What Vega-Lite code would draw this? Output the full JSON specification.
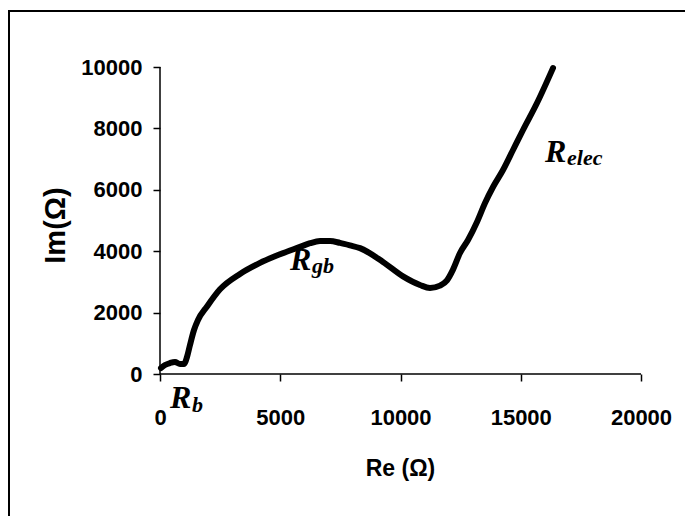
{
  "$schema": "https://vega.github.io/schema/vega-lite/v6.json",
  "width": 686,
  "height": 515,
  "autosize": {"type": "none"},
  "padding": {"left": 9, "top": 11, "right": 0, "bottom": 0},
  "background": "white",
  "config": {
    "view": {"stroke": "black", "strokeWidth": 2},
    "axis": {
      "grid": false,
      "domain": false,
      "ticks": true,
      "tickColor": "black",
      "tickWidth": 1.5,
      "tickSize": 7,
      "labelColor": "black",
      "labelFont": "Liberation Sans",
      "labelFontWeight": "bold",
      "labelFontSize": 22,
      "labelOverlap": false,
      "labelFlush": false,
      "titleColor": "black",
      "titleFont": "Liberation Sans",
      "titleFontWeight": "bold",
      "format": "d"
    }
  },
  "datasets": {
    "curve": [
      {"re": 42, "im": 195, "o": 1},
      {"re": 208, "im": 293, "o": 2},
      {"re": 416, "im": 358, "o": 3},
      {"re": 624, "im": 391, "o": 4},
      {"re": 832, "im": 326, "o": 5},
      {"re": 998, "im": 326, "o": 6},
      {"re": 1123, "im": 554, "o": 7},
      {"re": 1247, "im": 945, "o": 8},
      {"re": 1414, "im": 1433, "o": 9},
      {"re": 1580, "im": 1759, "o": 10},
      {"re": 1954, "im": 2200, "o": 11},
      {"re": 2495, "im": 2760, "o": 12},
      {"re": 3326, "im": 3260, "o": 13},
      {"re": 4158, "im": 3620, "o": 14},
      {"re": 4990, "im": 3900, "o": 15},
      {"re": 5821, "im": 4140, "o": 16},
      {"re": 6238, "im": 4260, "o": 17},
      {"re": 6653, "im": 4330, "o": 18},
      {"re": 7069, "im": 4330, "o": 19},
      {"re": 7484, "im": 4270, "o": 20},
      {"re": 7900, "im": 4190, "o": 21},
      {"re": 8316, "im": 4100, "o": 22},
      {"re": 9272, "im": 3650, "o": 23},
      {"re": 10104, "im": 3180, "o": 24},
      {"re": 10811, "im": 2900, "o": 25},
      {"re": 11227, "im": 2801, "o": 26},
      {"re": 11642, "im": 2880, "o": 27},
      {"re": 11933, "im": 3050, "o": 28},
      {"re": 12183, "im": 3400, "o": 29},
      {"re": 12474, "im": 3941, "o": 30},
      {"re": 12807, "im": 4364, "o": 31},
      {"re": 13181, "im": 4951, "o": 32},
      {"re": 13514, "im": 5569, "o": 33},
      {"re": 13847, "im": 6090, "o": 34},
      {"re": 14262, "im": 6644, "o": 35},
      {"re": 14678, "im": 7296, "o": 36},
      {"re": 15094, "im": 7947, "o": 37},
      {"re": 15676, "im": 8826, "o": 38},
      {"re": 16341, "im": 9966, "o": 39}
    ],
    "axislines": [
      {"re": 0, "im": 0, "re2": 0, "im2": 10000},
      {"re": 0, "im": 0, "re2": 20000, "im2": 0}
    ],
    "mains": [
      {"re": 416, "im": -1107, "t": "R"},
      {"re": 5405, "im": 3388, "t": "R"},
      {"re": 16008, "im": 6906, "t": "R"}
    ],
    "subs": [
      {"re": 1330, "im": -1238, "t": "b"},
      {"re": 6320, "im": 3290, "t": "gb"},
      {"re": 16923, "im": 6808, "t": "elec"}
    ]
  },
  "encoding": {
    "x": {
      "field": "re",
      "type": "quantitative",
      "scale": {"domain": [-6278.6, 22245.3], "nice": false, "zero": false},
      "axis": {
        "values": [0, 5000, 10000, 15000, 20000],
        "offset": -152,
        "labelPadding": 26,
        "title": "Re (Ω)",
        "titleFontSize": 23,
        "titleX": 391,
        "titleY": 94,
        "titleAlign": "center",
        "titleBaseline": "middle"
      }
    },
    "y": {
      "field": "im",
      "type": "quantitative",
      "scale": {"domain": [-4951.1, 11824.1], "nice": false, "zero": false},
      "axis": {
        "values": [0, 2000, 4000, 6000, 8000, 10000],
        "offset": -151,
        "labelPadding": 11,
        "title": "Im(Ω)",
        "titleFontSize": 29,
        "titleAngle": -90,
        "titleX": -105,
        "titleY": 214,
        "titleAlign": "center",
        "titleBaseline": "middle"
      }
    }
  },
  "layer": [
    {
      "data": {"name": "axislines"},
      "mark": {"type": "rule", "color": "black", "strokeWidth": 1.5},
      "encoding": {"x2": {"field": "re2"}, "y2": {"field": "im2"}}
    },
    {
      "data": {"name": "curve"},
      "mark": {"type": "line", "color": "black", "strokeWidth": 6, "strokeCap": "round", "strokeJoin": "round", "interpolate": "monotone"},
      "encoding": {"order": {"field": "o", "type": "quantitative"}}
    },
    {
      "data": {"name": "mains"},
      "mark": {"type": "text", "font": "Liberation Serif", "fontStyle": "italic", "fontWeight": "bold", "fontSize": 32, "align": "left", "baseline": "alphabetic", "color": "black"},
      "encoding": {"text": {"field": "t", "type": "nominal"}}
    },
    {
      "data": {"name": "subs"},
      "mark": {"type": "text", "font": "Liberation Serif", "fontStyle": "italic", "fontWeight": "bold", "fontSize": 22, "align": "left", "baseline": "alphabetic", "color": "black"},
      "encoding": {"text": {"field": "t", "type": "nominal"}}
    }
  ]
}
